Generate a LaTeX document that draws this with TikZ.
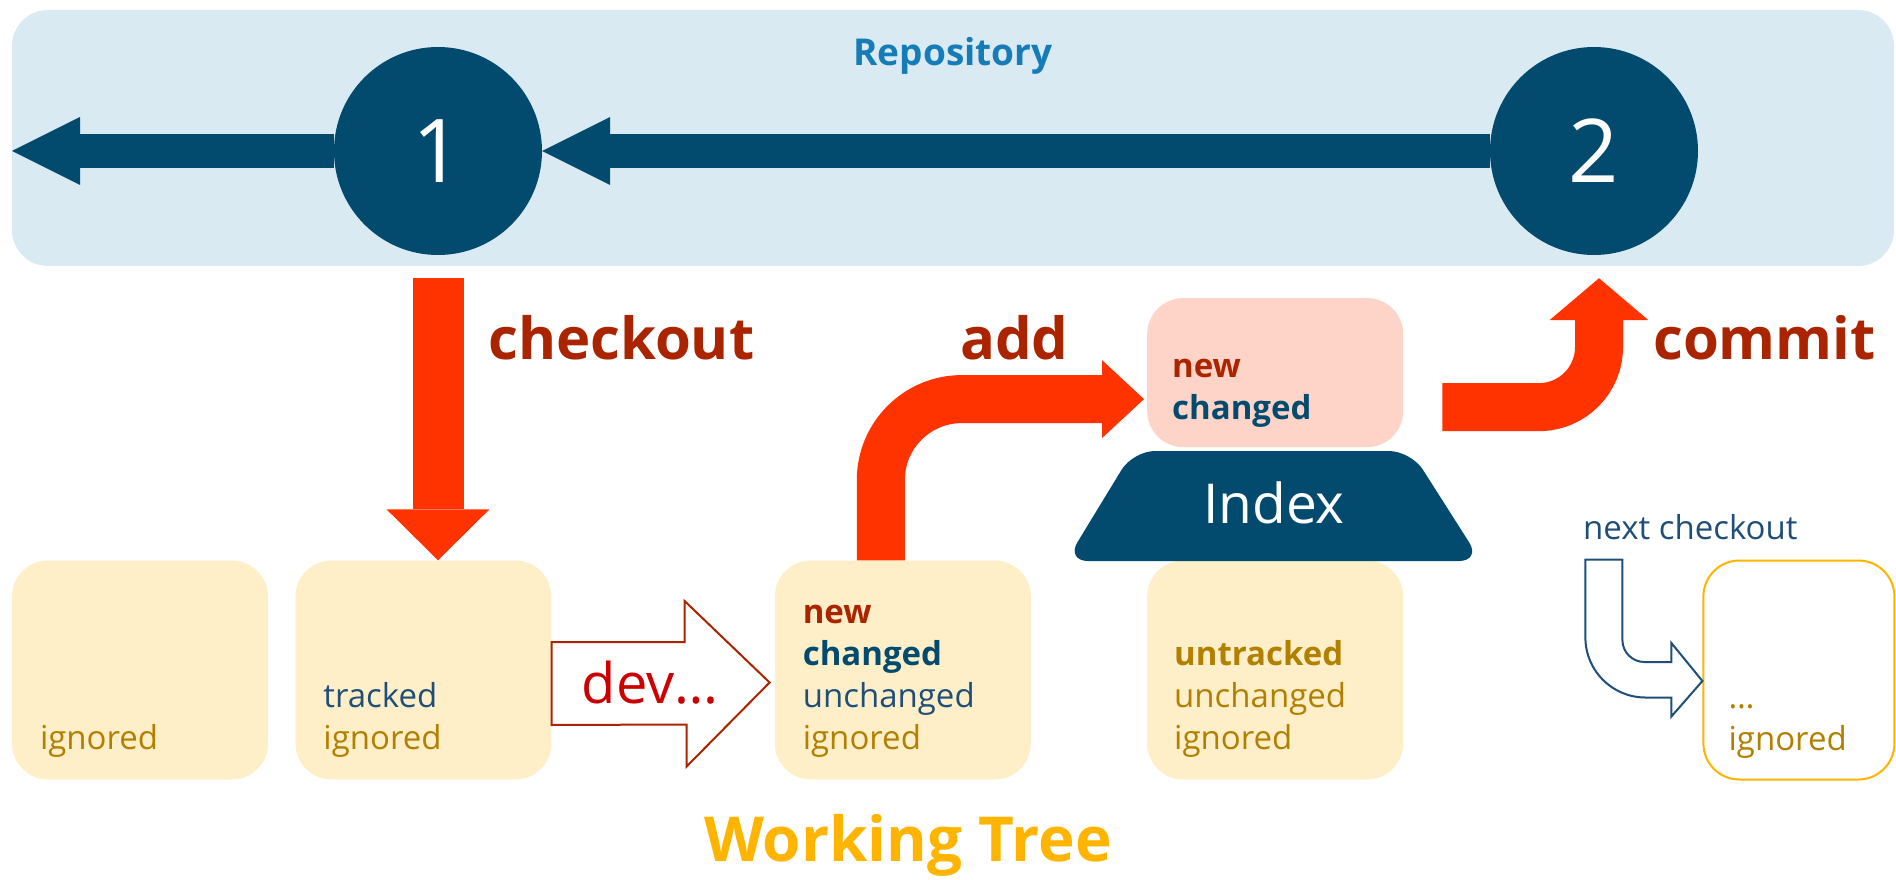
\documentclass[tikz,border=0pt]{standalone}
\usepackage{fontspec}
\setmainfont{Open Sans}
\usetikzlibrary{arrows.meta,positioning}

\definecolor{navy}{RGB}{2,75,110}
\definecolor{bandfill}{RGB}{218,234,243}
\definecolor{repoblue}{RGB}{22,124,184}
\definecolor{hot}{RGB}{255,51,0}
\definecolor{rust}{RGB}{170,36,0}
\definecolor{ochre}{RGB}{178,128,0}
\definecolor{steel}{RGB}{31,78,121}
\definecolor{wtfill}{RGB}{255,239,201}
\definecolor{stagefill}{RGB}{255,212,200}
\definecolor{gold}{RGB}{255,180,0}
\definecolor{devred}{RGB}{204,0,0}

\begin{document}
\begin{tikzpicture}[x=1pt,y=-1pt,
    band/.style={rectangle, rounded corners=36pt, fill=bandfill, minimum width=1882pt, minimum height=256pt},
    version/.style={circle, fill=navy, text=white, minimum size=208pt, inner sep=0pt, font=\fontsize{88}{88}\selectfont},
    wtbox/.style={rectangle, rounded corners=36pt, fill=wtfill, minimum width=256pt, minimum height=219pt, inner sep=0pt},
    boxtext/.style={align=left, inner sep=0pt, anchor=south west, text=ochre, font=\fontsize{33}{42}\selectfont},
    verb/.style={anchor=base west, inner sep=0pt, text=rust, font=\bfseries\fontsize{58}{58}\selectfont},
    history/.style={draw=navy, line width=34pt, -{Triangle[length=68pt,width=68pt,line width=0pt]}},
    flow/.style={draw=hot, line width=48pt},
    hollow/.style={fill=white, line width=2pt, line join=miter}]
\useasboundingbox (0,0) rectangle (1896,880);

% repository with two commits
\node (repo) [band] at (953,138) {};
\node (repolbl) [text=repoblue, font=\bfseries\fontsize{37}{37}\selectfont] at ([yshift=-46pt]repo.north) {Repository};
\node (c1) [version] at (438,151) {1};
\node (c2) [version] at (1594,151) {2};
\coordinate (past) at (12,151);
\draw[history] (c2) -- (c1);
\draw[history] (c1) -- (past);

% working tree states
\node (ign) [wtbox] at (140,670) {};
\node (trk) [wtbox, right=27pt of ign] {};
\node (wt) [wtbox, right=223pt of trk] {};
\node (unt) [wtbox, right=116pt of wt] {};
\node (nxt) [wtbox, fill=white, draw=gold, line width=2pt, minimum width=191pt, right=299pt of unt] {};
\node (stage) [wtbox, fill=stagefill, minimum height=149pt, above=113pt of unt] {};

\node (ignT) [boxtext] at ([shift={(28,-22)}]ign.south west) {ignored};
\node (trkT) [boxtext] at ([shift={(28,-22)}]trk.south west) {{\color{steel}tracked}\\ignored};
\node (wtT) [boxtext] at ([shift={(28,-22)}]wt.south west) {\textbf{\color{rust}new}\\\textbf{\color{navy}changed}\\{\color{steel}unchanged}\\ignored};
\node (untT) [boxtext] at ([shift={(27,-22)}]unt.south west) {\textbf{untracked}\\unchanged\\ignored};
\node (nxtT) [boxtext] at ([shift={(26,-22)}]nxt.south west) {…\\ignored};
\node (stageT) [boxtext] at ([shift={(25,-20)}]stage.south west) {\textbf{\color{rust}new}\\\textbf{\color{navy}changed}};

% index
\fill[navy, rounded corners=22pt] (1133,451) -- (1411,451) -- (1481,561) -- (1066,561) -- cycle;
\node (index) [text=white, font=\fontsize{55}{55}\selectfont] at (1274,503) {Index};

% checkout / add / commit
\draw[flow, line width=51pt, -{Triangle[length=51pt,width=103pt,line width=0pt]}] ([yshift=-23pt]c1.south) -- (c1.south |- trk.north);
\draw[flow, rounded corners=81pt, -{Triangle[length=42pt,width=78pt,line width=0pt]}] ([xshift=-22pt]wt.north) |- ([shift={(-3,26.5)}]stage.west);
\draw[flow, rounded corners=60pt, -{Triangle[length=42pt,width=99pt,line width=0pt]}] ([shift={(39,34.5)}]stage.east) -| ([shift={(5,23)}]c2.south);
\node (co) [verb] at (488,359) {checkout};
\node (ad) [verb] at (960,359) {add};
\node (cm) [verb] at (1653,359) {commit};

% development
\draw[hollow, draw=rust] ([shift={(0,-28)}]trk.east) -- ++(133,0) -- ++(0,-41) -- ([shift={(-5,12.5)}]wt.west) -- ++(-83,84) -- ++(0,-42) -- ([shift={(0,55)}]trk.east) -- cycle;
\node (dev) [text=devred, font=\fontsize{56}{56}\selectfont] at (650,683) {dev…};

% next checkout
\node (nxtlbl) [anchor=base west, inner sep=0pt, text=steel, font=\fontsize{33}{33}\selectfont] at (1583,539) {next checkout};
\draw[hollow, draw=steel] ([shift={(-80,0)}]nxt.north west) -- ++(-37,0) -- ++(0,78) arc[start angle=180, end angle=90, radius=60] -- ++(26,0) -- ++(0,19) -- ([shift={(0,11)}]nxt.west) -- ++(-31,-38) -- ++(0,19) -- ++(-27,0) arc[start angle=90, end angle=180, radius=22] -- cycle;

\node (wtree) [anchor=base, text=gold, font=\bfseries\fontsize{62}{62}\selectfont] at (908,861) {Working Tree};
\end{tikzpicture}
\end{document}
